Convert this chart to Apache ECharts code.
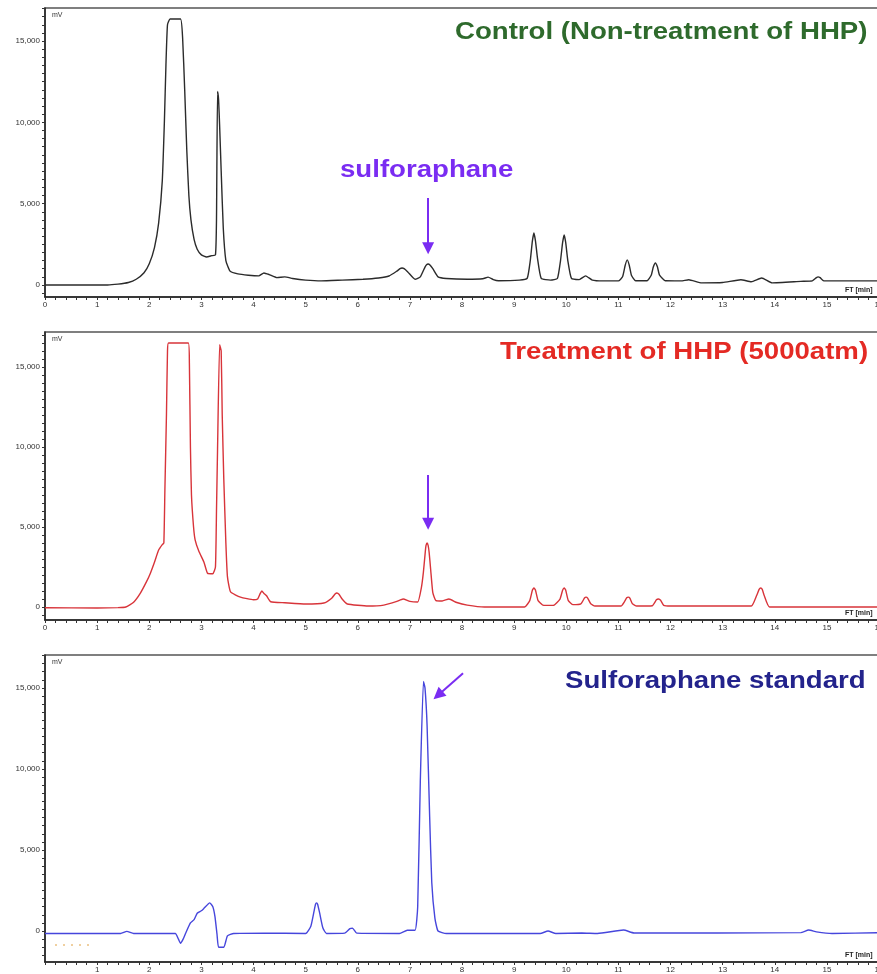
<!DOCTYPE html>
<html><head><meta charset="utf-8">
<script src="https://cdn.jsdelivr.net/npm/echarts@6/dist/echarts.min.js"></script>
<style>html,body{margin:0;padding:0;background:#fff}#c{width:877px;height:974px}</style>
</head><body><div id="c"></div>
<script>
// ---- data (time in min, signal in mV) ----
const xTickLabels = [0,1,2,3,4,5,6,7,8,9,10,11,12,13,14,15,16];
const yTickLabels = [0,5000,10000,15000];
const panelTitles = ['Control (Non-treatment of HHP)','Treatment of HHP (5000atm)','Sulforaphane standard'];
const peakName = 'sulforaphane';

const control = [
[0,0],[1.2,0],[1.4,50],[1.6,150],[1.75,350],[1.9,750],[2.0,1300],[2.1,2300],[2.18,3800],[2.25,6400],[2.29,10000],[2.32,13500],[2.35,16000],[2.4,16350],[2.6,16350],[2.64,15200],[2.68,12000],[2.72,8300],[2.76,5500],[2.8,4000],[2.86,2800],[2.92,2200],[3.0,1850],[3.1,1720],[3.2,1800],[3.27,1850],[3.29,4000],[3.31,11900],[3.33,11400],[3.35,9800],[3.38,7000],[3.42,3500],[3.47,1500],[3.55,850],[3.7,680],[3.9,600],[4.1,560],[4.2,740],[4.3,640],[4.45,450],[4.6,500],[4.75,400],[5.0,300],[5.3,250],[5.7,300],[6.1,350],[6.4,430],[6.6,550],[6.75,850],[6.81,1000],[6.85,1040],[6.89,1000],[6.96,800],[7.1,350],[7.2,500],[7.29,1100],[7.32,1250],[7.35,1290],[7.38,1250],[7.44,1000],[7.54,500],[7.7,400],[8.1,350],[8.4,380],[8.5,480],[8.6,330],[8.7,260],[9.1,300],[9.25,400],[9.31,1500],[9.35,2700],[9.38,3200],[9.41,2700],[9.45,1600],[9.52,400],[9.7,300],[9.83,400],[9.89,1500],[9.93,2600],[9.96,3080],[9.99,2600],[10.03,1500],[10.1,400],[10.25,330],[10.37,560],[10.5,300],[10.7,250],[11.0,250],[11.08,500],[11.13,1200],[11.17,1540],[11.21,1200],[11.25,600],[11.33,260],[11.55,260],[11.63,600],[11.67,1100],[11.71,1350],[11.75,1100],[11.79,600],[11.9,260],[12.2,250],[12.35,320],[12.6,130],[13.0,150],[13.35,320],[13.55,200],[13.75,430],[13.95,130],[14.5,220],[14.72,250],[14.8,450],[14.83,500],[14.87,450],[14.94,260],[16,250]
];

const treatment = [
[0,-50],[1.0,-60],[1.4,-40],[1.55,0],[1.7,300],[1.83,870],[1.95,1600],[2.02,2100],[2.1,2800],[2.18,3560],[2.25,3900],[2.28,4000],[2.3,7300],[2.33,12000],[2.35,16000],[2.37,16500],[2.75,16500],[2.77,15250],[2.79,10000],[2.81,7000],[2.85,5000],[2.88,4200],[2.95,3500],[3.05,2800],[3.12,2100],[3.22,2080],[3.27,2500],[3.29,6000],[3.31,9800],[3.35,16400],[3.38,16000],[3.4,12000],[3.43,8000],[3.47,4000],[3.5,1900],[3.56,940],[3.75,620],[4.0,450],[4.08,500],[4.13,850],[4.16,1000],[4.2,850],[4.25,700],[4.33,330],[4.6,270],[5.0,190],[5.35,250],[5.5,550],[5.57,830],[5.6,880],[5.64,800],[5.7,500],[5.8,190],[6.2,60],[6.5,120],[6.75,350],[6.87,500],[7.0,350],[7.15,310],[7.22,1200],[7.26,2200],[7.3,3600],[7.31,3850],[7.33,4000],[7.35,3850],[7.37,3400],[7.4,2300],[7.44,900],[7.5,400],[7.62,380],[7.75,500],[7.9,280],[8.1,120],[8.43,0],[9.2,0],[9.3,400],[9.35,1050],[9.38,1190],[9.41,1050],[9.46,400],[9.55,120],[9.75,100],[9.88,500],[9.93,1050],[9.96,1190],[9.99,1050],[10.04,400],[10.13,150],[10.28,200],[10.35,560],[10.38,620],[10.41,560],[10.47,200],[10.55,60],[11.05,60],[11.12,350],[11.16,580],[11.19,620],[11.22,560],[11.27,200],[11.35,60],[11.65,80],[11.73,450],[11.77,500],[11.81,420],[11.87,100],[12.0,60],[13.55,60],[13.65,700],[13.7,1100],[13.73,1190],[13.76,1100],[13.8,700],[13.9,0],[16,0]
];

const standard = [
[0,-150],[1.45,-150],[1.57,-20],[1.7,-150],[2.5,-150],[2.56,-500],[2.6,-750],[2.65,-500],[2.7,-120],[2.79,500],[2.86,700],[2.92,1100],[3.0,1250],[3.05,1400],[3.16,1740],[3.22,1500],[3.26,900],[3.3,-200],[3.33,-1000],[3.43,-1000],[3.5,-300],[3.62,-150],[4.2,-130],[5.0,-150],[5.1,300],[5.16,1200],[5.19,1650],[5.21,1740],[5.23,1650],[5.27,1100],[5.33,200],[5.4,-150],[5.75,-130],[5.85,150],[5.9,180],[5.98,-130],[6.8,-150],[6.95,50],[7.1,50],[7.15,1500],[7.2,9200],[7.26,15400],[7.29,15000],[7.33,12700],[7.38,7000],[7.42,3000],[7.48,800],[7.54,0],[7.7,-150],[9.5,-150],[9.65,0],[9.8,-150],[10.3,-120],[10.6,-150],[11.1,60],[11.3,-120],[14.5,-100],[14.65,60],[14.8,-50],[15.1,-150],[16,-100]
];

// arrows: [from, to] in (min, mV)
const arrow1 = [[7.35,5350],[7.35,2250]];
const arrow2 = [[7.35,8250],[7.35,5200]];
const arrow3 = [[8.02,15900],[7.54,14550]];

// ---- layout ----
const grids = [
  {top:8, height:289, ymin:-740, ymax:17030},
  {top:332, height:288, ymin:-812, ymax:17190},
  {top:655, height:307, ymin:-1910, ymax:17030}
];
const lineColors = ['#2b2b2b','#d8343a','#4646dc'];
const titleColors = ['#2e6a2c','#e42a24','#23238c'];
const titleX = [455, 500, 565];
const titleY = [33, 353, 682];
const arrowColor = '#7a2cf2';
const textScaleX = 1.2;

const xMinorTicks = [];
for (let i=0;i<=80;i++) xMinorTicks.push(+(i*0.2).toFixed(1));
const yMinor = [];
for (let v=-1500; v<=17000; v+=500) yMinor.push(v);

const fontFam = '"Liberation Sans", Arial, sans-serif';
const chart = echarts.init(document.getElementById('c'), null, {renderer:'canvas'});
const arrows = [arrow1, arrow2, arrow3];

const option = {
  backgroundColor:'#fff',
  animation:false,
  grid: grids.map(g=>({left:45, right:-2, top:g.top, height:g.height, show:true, borderColor:'#555', borderWidth:1.5, backgroundColor:'transparent', outerBoundsMode:'none', containLabel:false})),
  xAxis: grids.map((g,i)=>({
    type:'value', gridIndex:i, min:0, max:16,
    axisLine:{show:true, onZero:false, lineStyle:{color:'#222', width:1.5}},
    axisTick:{show:true, customValues:xMinorTicks, length:3, lineStyle:{color:'#333'}},
    axisLabel:{show:true, customValues: i===2 ? xTickLabels.slice(1) : xTickLabels, fontSize:8, color:'#333', margin:4, fontFamily:fontFam, hideOverlap:false},
    splitLine:{show:false}
  })),
  yAxis: grids.map((g,i)=>({
    type:'value', gridIndex:i, min:g.ymin, max:g.ymax,
    axisLine:{show:true, onZero:false, lineStyle:{color:'#222', width:1.5}},
    axisTick:{show:true, customValues:yMinor.filter(v=>v>=g.ymin && v<=g.ymax), length:3, lineStyle:{color:'#333'}},
    axisLabel:{show:true, customValues:yTickLabels, fontSize:8, color:'#333', margin:5, fontFamily:fontFam,
      formatter:v=>v.toLocaleString('en-US')},
    splitLine:{show:false}
  })),
  series: [control, treatment, standard].map((d,i)=>({
    type:'line', xAxisIndex:i, yAxisIndex:i, data:d, showSymbol:false, symbol:'none',
    lineStyle:{color:lineColors[i], width:1.4}, smooth:0.15,
    markLine:{
      silent:true, symbol:['none','triangle'], symbolSize:[12,12],
      lineStyle:{color:arrowColor, width:2, type:'solid'}, label:{show:false},
      data:[[ {coord:arrows[i][0]}, {coord:arrows[i][1]} ]]
    }
  })),
  graphic: [
    ...panelTitles.map((t,i)=>({type:'text', x:titleX[i], y:titleY[i], scaleX:textScaleX, style:{text:t, fill:titleColors[i], font:'bold 23px '+fontFam, textVerticalAlign:'middle'}})),
    {type:'text', x:340, y:171, scaleX:textScaleX, style:{text:peakName, fill:arrowColor, font:'bold 23px '+fontFam, textVerticalAlign:'middle'}},
    ...grids.map(g=>({type:'text', x:52, y:g.top+4, style:{text:'mV', fill:'#333', font:'7px '+fontFam}})),
    ...grids.map(g=>({type:'text', x:845, y:g.top+g.height-10, style:{text:'FT [min]', fill:'#222', font:'bold 7px '+fontFam}})),
    {type:'line', shape:{x1:55,y1:945,x2:92,y2:945}, style:{stroke:'#e0a040', lineWidth:1, lineDash:[2,6]}}
  ]
};
chart.setOption(option);
</script>
</body></html>
